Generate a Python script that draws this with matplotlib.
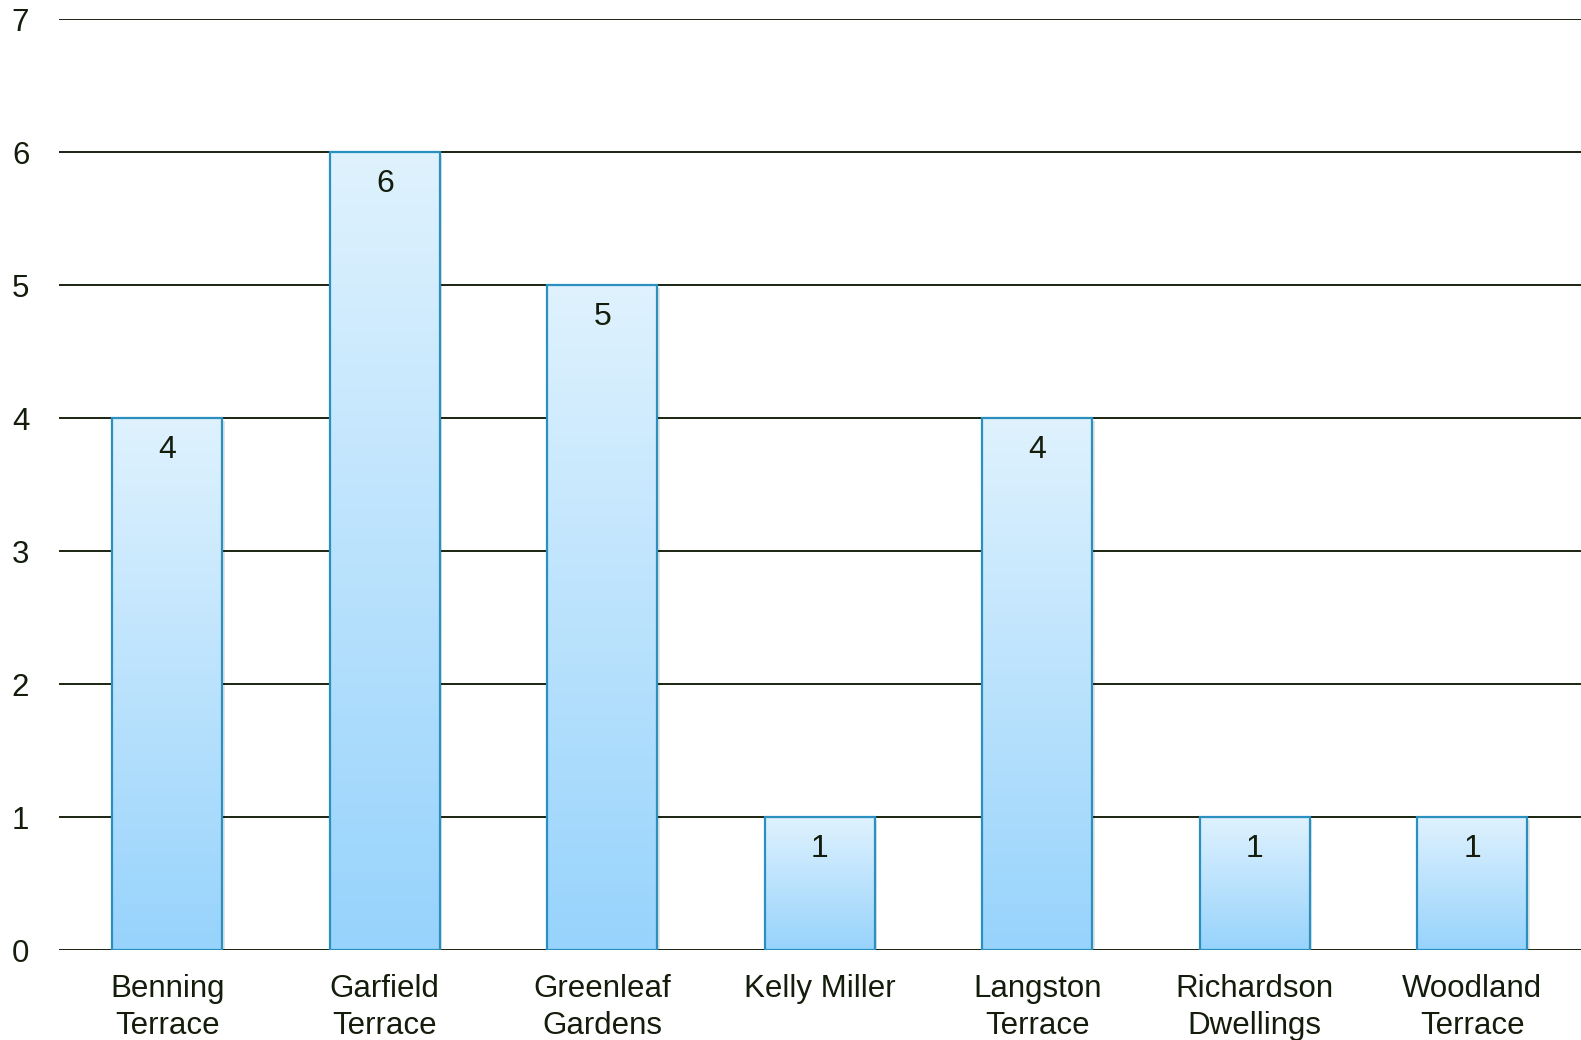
import matplotlib
matplotlib.use("Agg")
import matplotlib.pyplot as plt
import numpy as np
from matplotlib.colors import LinearSegmentedColormap
from matplotlib.patches import Rectangle

plt.rcParams['font.family'] = ['Liberation Sans', 'DejaVu Sans']

categories = ["Benning\nTerrace", "Garfield\nTerrace", "Greenleaf\nGardens", "Kelly Miller",
              "Langston\nTerrace", "Richardson\nDwellings", "Woodland\nTerrace"]
values = [4, 6, 5, 1, 4, 1, 1]
y_ticks = [0, 1, 2, 3, 4, 5, 6, 7]

text_color = "#141c0c"
grid_color = "#1a2210"

fig = plt.figure(figsize=(15.81, 10.40), dpi=100)
ax = fig.add_axes([58.5 / 1581, 1 - 950 / 1040, 1 - 58.5 / 1581, (950 - 19.2) / 1040])

x = np.arange(len(categories))
width = 0.505
cmap = LinearSegmentedColormap.from_list("g", ["#97d3fc", "#dff2fe"])
grad = np.linspace(0, 1, 256).reshape(-1, 1)

bars = ax.bar(x, values, width=width, facecolor="none", edgecolor="#2a90c0", linewidth=1.6, zorder=4)
for b in bars:
    x0, y0 = b.get_x(), b.get_y()
    w, h = b.get_width(), b.get_height()
    sh = Rectangle((x0 + 0.012, y0), w, h - 0.02, facecolor="#000000", alpha=0.10,
                   edgecolor="none", zorder=2)
    ax.add_patch(sh)
    im = ax.imshow(grad, extent=(x0, x0 + w, y0, y0 + h), origin="lower", cmap=cmap,
                   aspect="auto", zorder=3, interpolation="bicubic")
    clip = Rectangle((x0, y0), w, h, transform=ax.transData)
    im.set_clip_path(clip)

for xi, v in zip(x, values):
    ax.annotate(str(v), (xi, v), xytext=(0, -12), textcoords="offset points",
                ha="center", va="top", fontsize=23, color=text_color, zorder=5)

ax.set_xlim(-0.5, 6.5)
ax.set_ylim(0, 7)
ax.set_yticks(y_ticks)
ax.set_yticklabels([str(t) for t in y_ticks])
ax.set_xticks(x)
ax.set_xticklabels(categories, linespacing=1.3)
ax.tick_params(axis="y", length=0, pad=21, labelsize=22.5, labelcolor=text_color)
ax.tick_params(axis="x", length=0, pad=17, labelsize=22.5, labelcolor=text_color)
for s in ax.spines.values():
    s.set_visible(False)
ax.yaxis.grid(True, color=grid_color, linewidth=1.4, zorder=1)
ax.set_axisbelow(True)

fig.savefig("out.png", dpi=100)
